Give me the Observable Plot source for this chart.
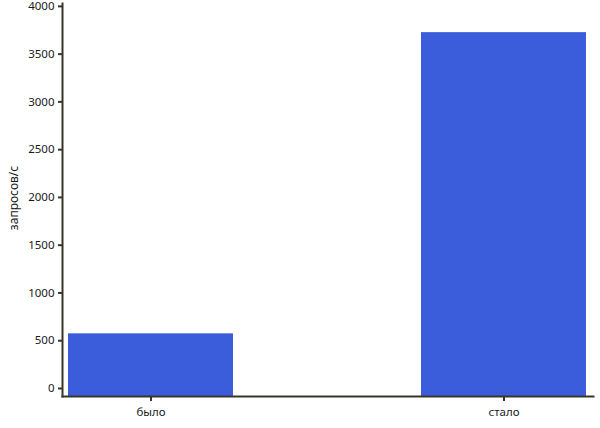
<!DOCTYPE html>
<html>
<head>
<meta charset="utf-8">
<script src="https://cdn.jsdelivr.net/npm/d3@7"></script>
<script src="https://cdn.jsdelivr.net/npm/@observablehq/plot@0.6"></script>
<style>
  html, body { margin: 0; padding: 0; background: #fff; }
  #chart svg { display: block; }
</style>
</head>
<body>
<div id="chart"></div>
<script>
const categories = ["было", "стало"];
const values = [572, 3725];
const yTicks = [0, 500, 1000, 1500, 2000, 2500, 3000, 3500, 4000];
const yLabel = "запросов/с";
const yDomain = [-84, 4030];

const data = categories.map((c, i) => ({cat: c, val: values[i]}));
const axisColor = "#36362a";

const chart = Plot.plot({
  width: 600,
  height: 428,
  marginLeft: 62,
  marginRight: 7,
  marginTop: 3,
  marginBottom: 32,
  style: {fontFamily: "'Noto Sans', sans-serif", fontSize: "12px", color: "#1a1a1a", background: "#fff"},
  x: {domain: categories, paddingInner: 0.532, paddingOuter: 0.018, label: null},
  y: {domain: yDomain, nice: false, label: null},
  marks: [
    Plot.barY(data, {x: "cat", y1: yDomain[0], y2: "val", fill: "#3c5ddb"}),
    Plot.axisY({ticks: yTicks, tickSize: 4, tickPadding: 4, stroke: axisColor, strokeWidth: 2, tickFormat: d => String(d), fill: "#1a1a1a", fontSize: 11.5}),
    Plot.axisX({tickSize: 5, tickPadding: 6, stroke: axisColor, strokeWidth: 2, fill: "#1a1a1a", fontSize: 11.5}),
    Plot.frame({anchor: "left", stroke: axisColor, strokeWidth: 2}),
    Plot.frame({anchor: "bottom", stroke: axisColor, strokeWidth: 2}),
    Plot.text([yLabel], {frameAnchor: "left", textAnchor: "middle", dx: -48, dy: -2, rotate: -90, fill: "#1a1a1a", fontSize: 12, text: d => d})
  ]
});
document.getElementById("chart").appendChild(chart);
</script>
</body>
</html>
